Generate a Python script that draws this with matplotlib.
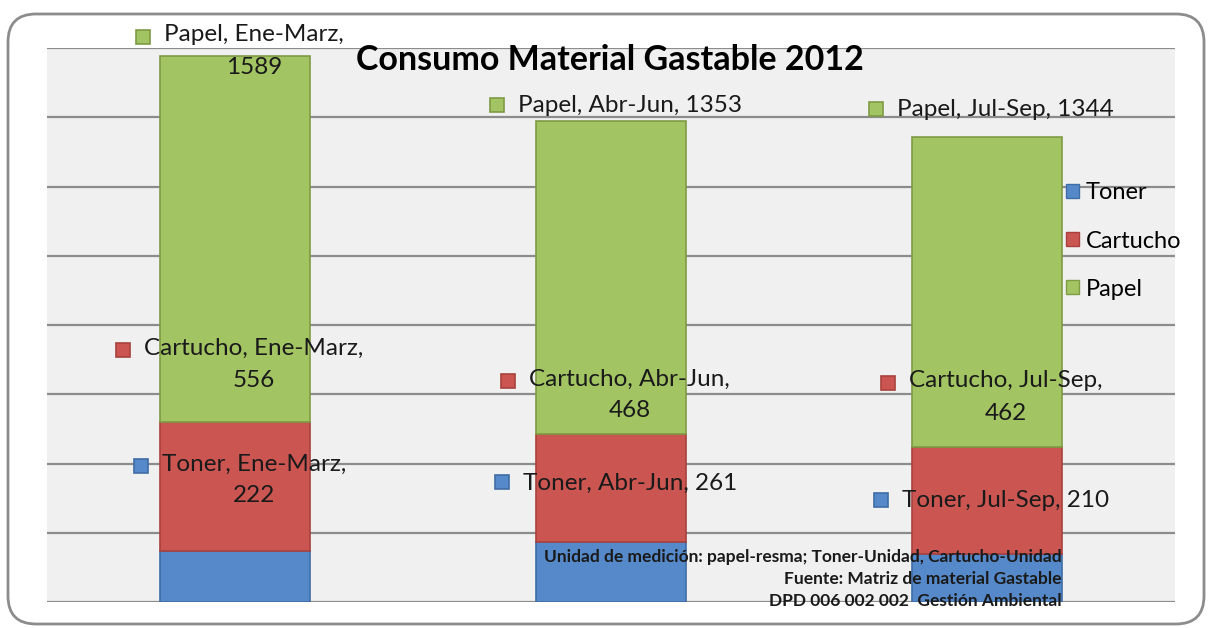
import numpy as np
import matplotlib.pyplot as plt
from matplotlib.patches import FancyBboxPatch, Rectangle, Patch
from matplotlib.transforms import IdentityTransform

# datos
periodos = ['Ene-Marz', 'Abr-Jun', 'Jul-Sep']
series = ['Toner', 'Cartucho', 'Papel']
toner = [222, 261, 210]
cartucho = [556, 468, 462]
papel = [1589, 1353, 1344]
valores = [toner, cartucho, papel]

colores = ['#5589C9', '#CB5651', '#A3C462']
bordes = ['#3F6DA6', '#A8413D', '#7E9B45']

# posicion vertical de cada etiqueta (unidades del eje), puesta a mano como en el original
label_y = [[529, 516, 438], [1031, 897, 888], [2387, 2149, 2132]]
partidas = {(0, 0), (1, 0), (2, 0), (1, 1), (1, 2)}  # etiquetas en dos lineas

W, H = 1209, 628
plt.rcParams['font.family'] = ['Lato', 'DejaVu Sans']
fig = plt.figure(figsize=(W / 100, H / 100), dpi=100)

# marco redondeado del grafico
fig.add_artist(FancyBboxPatch((8, 4), 1196, 610, boxstyle='round,pad=0,rounding_size=28',
                              transform=IdentityTransform(), facecolor='none',
                              edgecolor='#8C8C8C', lw=2))

ax = fig.add_axes([47 / W, 26 / H, 1128 / W, 554 / H])
ax.set_facecolor('#F0F0F0')
ax.set_ylim(0, 2400)
ax.set_xlim(-0.5, 2.5)
ax.set_yticks(range(0, 2401, 300))
ax.yaxis.grid(True, color='#8C8C8C', lw=1.6)
ax.set_axisbelow(True)
ax.tick_params(length=0, labelleft=False, labelbottom=False)
for s in ax.spines.values():
    s.set_visible(False)

x = np.arange(len(periodos))
base = np.zeros(len(periodos))
for i, serie in enumerate(series):
    ax.bar(x, valores[i], 0.4, bottom=base, color=colores[i], edgecolor=bordes[i], lw=1.2,
           label=serie, zorder=2)
    base += valores[i]

# etiquetas de datos
textos = []
for i, serie in enumerate(series):
    for j, per in enumerate(periodos):
        if (i, j) in partidas:
            s = f'{serie}, {per},\n{valores[i][j]}'
        else:
            s = f'{serie}, {per}, {valores[i][j]}'
        t = ax.text(x[j] + 0.05, label_y[i][j], s, ha='center', va='center', fontsize=17.5,
                    color='#1A1A1A', multialignment='center', zorder=4, linespacing=1.65)
        textos.append((t, i, s.count('\n') + 1))

fig.canvas.draw()
r = fig.canvas.get_renderer()
for t, i, n in textos:
    bb = t.get_window_extent(r)
    lh = bb.height / n
    yc = bb.y1 - lh / 2
    fig.add_artist(Rectangle((bb.x0 - 28, yc - 6), 14, 14, transform=IdentityTransform(),
                             facecolor=colores[i], edgecolor=bordes[i], lw=1.2))

handles = [Patch(facecolor=colores[i], edgecolor=bordes[i]) for i in range(3)]
ax.legend(handles, series, loc='center left', bbox_to_anchor=(1066 / W, 1 - 241 / H),
          bbox_transform=fig.transFigure, frameon=False, fontsize=17, handlelength=0.55,
          handleheight=0.55, handletextpad=0.3, labelspacing=1.15, borderpad=0, borderaxespad=0)

fig.text(610 / W, 1 - 60 / H, 'Consumo Material Gastable 2012', ha='center', va='center',
         fontsize=24.5, fontweight='bold', color='black')

notas = ['Unidad de medición: papel-resma; Toner-Unidad, Cartucho-Unidad',
         'Fuente: Matriz de material Gastable',
         'DPD 006 002 002  Gestión Ambiental']
for k, n in enumerate(notas):
    fig.text(1062 / W, 1 - (557 + 22 * k) / H, n, ha='right', va='center', fontsize=12.5,
             fontweight='bold', color='#1A1A1A')

fig.savefig('out.png', dpi=100)
